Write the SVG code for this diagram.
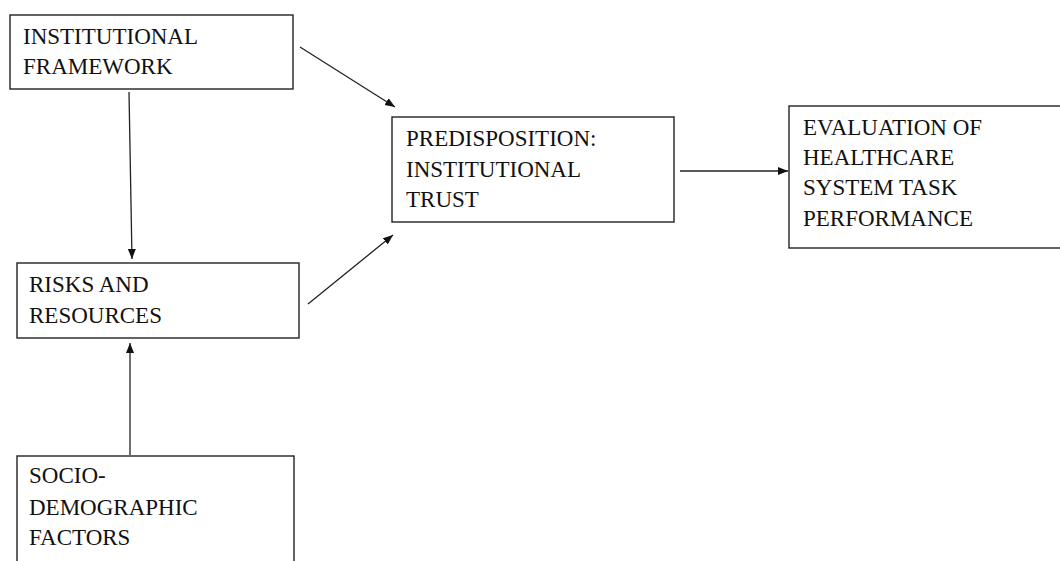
<svg xmlns="http://www.w3.org/2000/svg" width="1060" height="561" viewBox="0 0 1060 561">
<style>
.box{fill:#fff;stroke:#222;stroke-width:1.4}
.t{font-family:'Liberation Serif','Times New Roman','DejaVu Serif',serif;font-size:23px;fill:#111}
.c{stroke:#222;stroke-width:1.3;fill:none}
</style>
<defs>
<marker id="ah" viewBox="0 0 10 10" refX="10" refY="5" markerWidth="10" markerHeight="10" markerUnits="userSpaceOnUse" orient="auto">
<path d="M0,1 L10,5 L0,9 Z" fill="#111"/>
</marker>
</defs>
<rect width="1060" height="561" fill="#fff"/>
<g id="institutional-framework">
<rect class="box" x="10" y="15" width="283" height="74"/>
<text class="t" font-family="Liberation Serif, serif" x="23" y="44">INSTITUTIONAL</text>
<text class="t" font-family="Liberation Serif, serif" x="23" y="74">FRAMEWORK</text>
</g>
<g id="risks-resources">
<rect class="box" x="17" y="263" width="282" height="75"/>
<text class="t" x="29" y="292">RISKS AND</text>
<text class="t" x="29" y="323">RESOURCES</text>
</g>
<g id="socio-demographic">
<rect class="box" x="17" y="456" width="277" height="120"/>
<text class="t" x="29" y="483">SOCIO-</text>
<text class="t" x="29" y="515">DEMOGRAPHIC</text>
<text class="t" x="29" y="545">FACTORS</text>
</g>
<g id="predisposition">
<rect class="box" x="392" y="117" width="282" height="105"/>
<text class="t" x="406" y="146">PREDISPOSITION:</text>
<text class="t" x="406" y="177">INSTITUTIONAL</text>
<text class="t" x="406" y="207">TRUST</text>
</g>
<g id="evaluation">
<rect class="box" x="789" y="106" width="280" height="142"/>
<text class="t" x="803" y="135">EVALUATION OF</text>
<text class="t" x="803" y="165">HEALTHCARE</text>
<text class="t" x="803" y="195">SYSTEM TASK</text>
<text class="t" x="803" y="226">PERFORMANCE</text>
</g>
<g id="connectors">
<line class="c" x1="129" y1="92" x2="132" y2="259" marker-end="url(#ah)"/>
<line class="c" x1="130" y1="455" x2="130" y2="343" marker-end="url(#ah)"/>
<line class="c" x1="300" y1="47" x2="395" y2="107" marker-end="url(#ah)"/>
<line class="c" x1="308" y1="304" x2="393" y2="235" marker-end="url(#ah)"/>
<line class="c" x1="680" y1="171" x2="788" y2="171" marker-end="url(#ah)"/>
</g>
</svg>
